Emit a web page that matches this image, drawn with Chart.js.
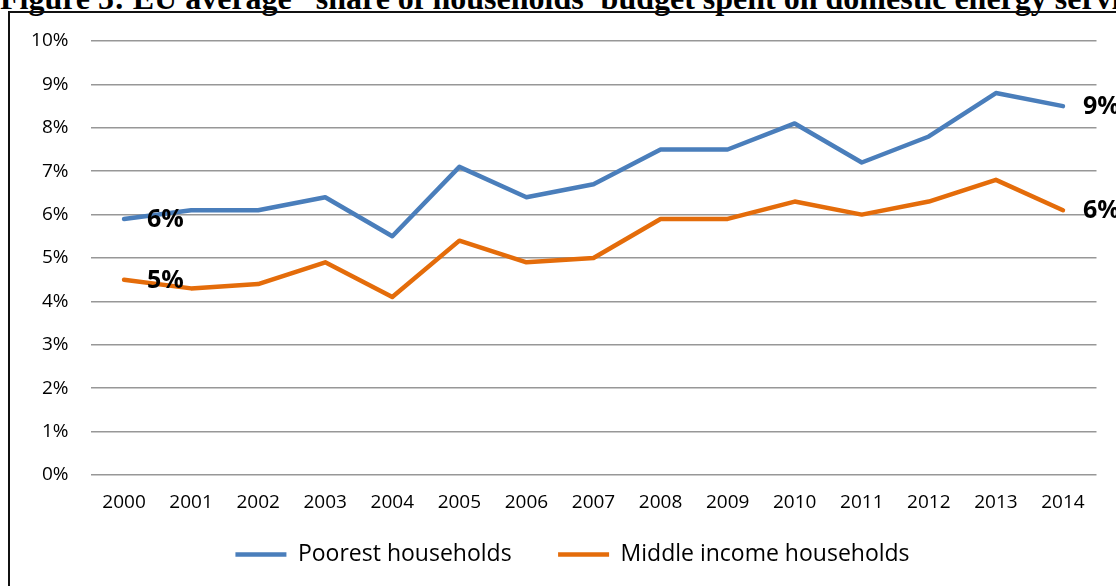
<!DOCTYPE html>
<html>
<head>
<meta charset="utf-8">
<script src="https://cdn.jsdelivr.net/npm/chart.js@4/dist/chart.umd.min.js"></script>
<style>
  html, body { margin: 0; padding: 0; background: #fff; overflow: hidden; }
  #title {
    position: absolute; left: 0; top: -18px; white-space: nowrap;
    font: bold 32px "Liberation Serif", "Times New Roman", serif; line-height: 32px; color: #000;
  }
  #frame {
    position: absolute; left: 8px; top: 11px; width: 1200px; height: 700px;
    border: 2px solid #111;
  }
  #wrap { position: absolute; left: 0; top: 0; width: 1116px; height: 586px; }
</style>
</head>
<body>
<div id="title">Figure 5: EU average* share of households' budget spent on domestic energy services</div>
<div id="frame"></div>
<div id="wrap"><canvas id="chart"></canvas></div>
<script>
var years = ['2000', '2001', '2002', '2003', '2004', '2005', '2006', '2007', '2008', '2009', '2010', '2011', '2012', '2013', '2014'];
var poorest = [5.9, 6.1, 6.1, 6.4, 5.5, 7.1, 6.4, 6.7, 7.5, 7.5, 8.1, 7.2, 7.8, 8.8, 8.5];
var middle = [4.5, 4.3, 4.4, 4.9, 4.1, 5.4, 4.9, 5.0, 5.9, 5.9, 6.3, 6.0, 6.3, 6.8, 6.1];
var seriesNames = ['Poorest households', 'Middle income households'];
var seriesColors = ['#4a7ebb', '#e46c0a'];

var font = '"Open Sans", "Noto Sans", sans-serif';

// first and last value labels, like Excel's data labels
var endLabels = {
  id: 'endLabels',
  afterLayout: function (chart) {
    // legend sits a bit right of the canvas centre in the original
    chart.legend.left += 9;
    chart.legend.right += 9;
  },
  afterDatasetsDraw: function (chart) {
    var ctx = chart.ctx;
    ctx.save();
    ctx.font = 'bold 25px ' + font;
    ctx.fillStyle = '#000';
    ctx.textAlign = 'left';
    ctx.textBaseline = 'middle';
    chart.data.datasets.forEach(function (ds, i) {
      var pts = chart.getDatasetMeta(i).data;
      [0, pts.length - 1].forEach(function (k) {
        var txt = Math.round(ds.data[k]) + '%';
        ctx.fillText(txt, pts[k].x + (k === 0 ? 23 : 20), pts[k].y + 1);
      });
    });
    ctx.restore();
  }
};

var ctx = document.getElementById('chart').getContext('2d');
var myChart = new Chart(ctx, {
  type: 'line',
  data: {
    labels: years,
    datasets: [{
      label: seriesNames[0],
      data: poorest,
      borderColor: seriesColors[0],
      backgroundColor: seriesColors[0],
      borderWidth: 4.5,
      borderCapStyle: 'round',
      borderJoinStyle: 'round',
      pointRadius: 0,
      tension: 0
    }, {
      label: seriesNames[1],
      data: middle,
      borderColor: seriesColors[1],
      backgroundColor: seriesColors[1],
      borderWidth: 4.5,
      borderCapStyle: 'round',
      borderJoinStyle: 'round',
      pointRadius: 0,
      tension: 0
    }]
  },
  options: {
    responsive: true,
    maintainAspectRatio: false,
    animation: false,
    layout: { padding: { left: 30.5, right: 19.5, top: 41, bottom: 10 } },
    plugins: {
      tooltip: { enabled: false },
      legend: {
        position: 'bottom',
        labels: {
          usePointStyle: true,
          pointStyle: 'line',
          pointStyleWidth: 51,
          boxHeight: 8,
          padding: 12,
          color: '#000',
          font: { family: font, size: 23 },
          generateLabels: function (chart) {
            var items = Chart.defaults.plugins.legend.labels.generateLabels(chart);
            // wider gap after the first entry
            items[0].text = items[0].text + '\u2003\u2002';
            return items;
          }
        }
      }
    },
    scales: {
      x: {
        offset: true,
        afterFit: function (scale) { scale.height = 56; },
        grid: { display: false, drawTicks: false },
        border: { display: false },
        ticks: { color: '#000', padding: 16, maxRotation: 0, font: { family: font, size: 19 } }
      },
      y: {
        min: 0,
        max: 10,
        afterFit: function (scale) { scale.width = 60; },
        grid: { color: '#979797', lineWidth: 1.6, drawTicks: false },
        border: { display: false },
        ticks: {
          stepSize: 1,
          padding: 22,
          color: '#000',
          font: { family: font, size: 19 },
          callback: function (v) { return v + '%'; }
        }
      }
    }
  },
  plugins: [endLabels]
});
</script>
</body>
</html>
